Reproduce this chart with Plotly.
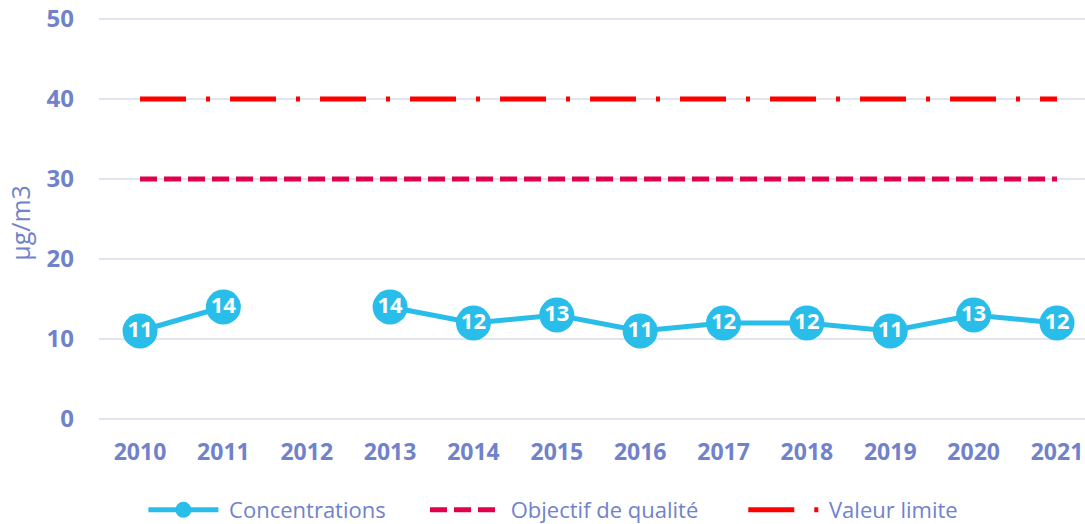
import plotly.graph_objects as go

years = [2010, 2011, 2012, 2013, 2014, 2015, 2016, 2017, 2018, 2019, 2020, 2021]
concentrations = [11, 14, None, 14, 12, 13, 11, 12, 12, 11, 13, 12]
objectif = [30] * 12
valeur_limite = [40] * 12
y_ticks = [0, 10, 20, 30, 40, 50]
series_names = ["Concentrations", "Objectif de qualité", "Valeur limite"]

tick_color = "#6F82CB"
font_fam = "Open Sans, Noto Sans, sans-serif"
NB = "\u00a0"

fig = go.Figure()
fig.add_trace(go.Scatter(
    x=years, y=concentrations, name=NB + series_names[0] + NB * 6,
    mode="lines+markers+text",
    line=dict(color="#29BDE9", width=5),
    marker=dict(size=35, color="#29BDE9", line=dict(width=0)),
    text=[str(v) if v is not None else "" for v in concentrations],
    textposition="middle center",
    textfont=dict(color="white", size=22, family=font_fam, weight="bold"),
    connectgaps=False,
))
fig.add_trace(go.Scatter(
    x=years, y=objectif, name=NB + series_names[1] + NB * 7, mode="lines",
    line=dict(color="#E0004D", width=5, dash="17px,7px"),
))
fig.add_trace(go.Scatter(
    x=years, y=valeur_limite, name=NB + series_names[2], mode="lines",
    line=dict(color="#FF0000", width=5, dash="46px,20px,4px,20px"),
))

fig.update_layout(
    width=1085, height=524,
    margin=dict(l=99, r=0, t=11, b=89, autoexpand=False),
    paper_bgcolor="white", plot_bgcolor="white",
    font=dict(family=font_fam, color=tick_color),
    showlegend=True,
    legend=dict(orientation="h", x=0.045, xanchor="left", y=-0.177, yanchor="middle",
                font=dict(size=22, color=tick_color, family=font_fam),
                itemwidth=70, traceorder="normal"),
    xaxis=dict(range=[2009.508, 2021.336], tickmode="array", tickvals=years,
               ticktext=[str(y) for y in years], showgrid=False, zeroline=False,
               showline=False, ticklabelstandoff=1, automargin=False,
               ticklabeloverflow="allow",
               tickfont=dict(size=23, color=tick_color, family=font_fam, weight="bold")),
    yaxis=dict(range=[-2, 51], tickmode="array", tickvals=y_ticks,
               gridcolor="#E1E4F2", gridwidth=2, zeroline=False, showline=False,
               ticklabelstandoff=24, automargin=False, ticklabeloverflow="allow",
               tickfont=dict(size=24, color=tick_color, family=font_fam, weight="bold"),
               title=dict(text="µg/m3", font=dict(size=25, color=tick_color, family=font_fam),
                          standoff=8)),
)

# remove the default 8px page margin so the figure fills the window exactly
fig.write_html("out.html", config={"displayModeBar": False},
               post_script="document.body.style.margin='0';")
